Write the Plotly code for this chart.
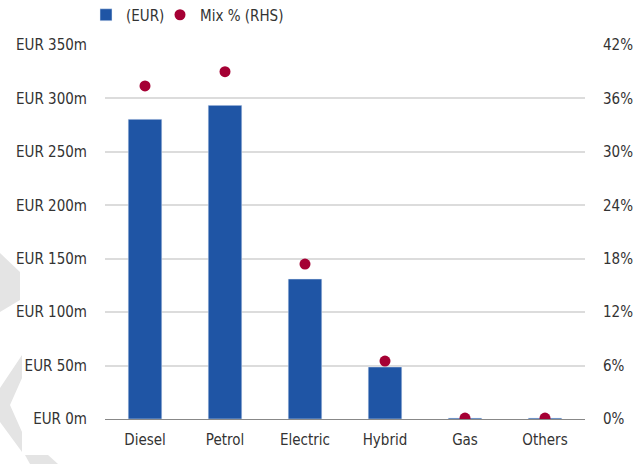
import plotly.graph_objects as go

categories = ["Diesel", "Petrol", "Electric", "Hybrid", "Gas", "Others"]
eur_values = [280.5, 293.5, 131, 48.7, 1.0, 1.0]
mix_pct = [37.4, 39.0, 17.4, 6.5, 0.1, 0.1]
left_ticks = [0, 50, 100, 150, 200, 250, 300, 350]
right_ticks = [0, 6, 12, 18, 24, 30, 36, 42]

FONT = "Liberation Sans Narrow, DejaVu Sans Condensed, Roboto, sans-serif"
BLUE = "#1f55a5"
RED = "#a50034"

fig = go.Figure()
fig.add_trace(go.Bar(x=categories, y=eur_values, name="(EUR)", marker_color=BLUE,
                     width=0.42, yaxis="y", legend="legend"))
fig.add_trace(go.Scatter(x=categories, y=mix_pct, name="Mix % (RHS)", mode="markers",
                         marker=dict(color=RED, size=11), yaxis="y2", legend="legend2"))

W, H = 641, 464
L, R, T, B = 105, 56, 45, 45
pw, ph = W - L - R, H - T - B

def px(x, y):
    return (x - L) / pw, (H - B - y) / ph

def path(points):
    s = ""
    for i, (x, y) in enumerate(points):
        a, b = px(x, y)
        s += ("M" if i == 0 else "L") + f"{a:.4f},{b:.4f} "
    return s + "Z"

shapes = []
for pts in [
    [(0, 253), (20, 272), (20, 300), (0, 312)],
    [(22, 355), (0, 388), (0, 422), (22, 452), (22, 432), (10, 405), (22, 378)],
    [(25, 455), (48, 455), (58, 464), (30, 464)],
]:
    shapes.append(dict(type="path", xref="paper", yref="paper", path=path(pts),
                       fillcolor="#e4e4e4", line=dict(width=0), layer="below"))

leg_common = dict(orientation="h", xref="container", yref="container",
                  xanchor="left", y=1 - 15 / H, yanchor="middle",
                  font=dict(size=15, color="#333333"), bgcolor="rgba(0,0,0,0)")

fig.update_layout(
    width=W, height=H,
    margin=dict(l=L, r=R, t=T, b=B, autoexpand=False),
    paper_bgcolor="white", plot_bgcolor="white",
    font=dict(family=FONT, size=15, color="#333333"),
    showlegend=True,
    legend=dict(x=(108 - 20 - 2) / W, **leg_common),
    legend2=dict(x=(182 - 20 - 2) / W, **leg_common),
    bargap=0.58,
    shapes=shapes,
    xaxis=dict(showgrid=False, showline=True, linecolor="#888888", linewidth=1,
               ticks="", ticklabelstandoff=7, fixedrange=True, automargin=False),
    yaxis=dict(range=[0, 350], tickvals=left_ticks,
               ticktext=[f"EUR {v}m" for v in left_ticks],
               showgrid=True, gridcolor="#dcdcdc", gridwidth=1.5,
               zeroline=True, zerolinecolor="#888888", zerolinewidth=1,
               ticks="", ticklabelstandoff=17, automargin=False, fixedrange=True),
    yaxis2=dict(range=[0, 42], tickvals=right_ticks,
                ticktext=[f"{v}%" for v in right_ticks],
                overlaying="y", side="right", showgrid=False, zeroline=False,
                ticks="", ticklabelstandoff=17, automargin=False, fixedrange=True),
)

fig.write_html("out.html", config={"displayModeBar": False},
               post_script="document.body.style.margin='0';")
